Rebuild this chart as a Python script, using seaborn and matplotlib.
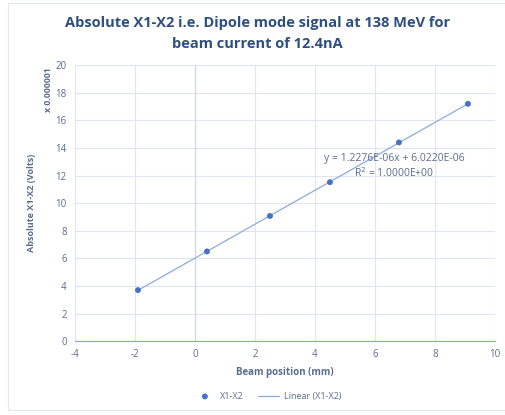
import numpy as np
import pandas as pd
import matplotlib
matplotlib.use("Agg")
import matplotlib.pyplot as plt
import seaborn as sns

# beam position (mm) vs |X1-X2| (x 1e-6 V)
beam_pos = [-1.9, 0.4, 2.5, 4.5, 6.8, 9.1]
signal = [3.70, 6.50, 9.07, 11.52, 14.40, 17.20]
x_ticks = [-4, -2, 0, 2, 4, 6, 8, 10]
y_ticks = [0, 2, 4, 6, 8, 10, 12, 14, 16, 18, 20]

df = pd.DataFrame({"pos": beam_pos, "sig": signal})

sns.set_theme(style="white")
plt.rcParams["font.family"] = ["Open Sans", "DejaVu Sans"]
plt.rcParams["axes.unicode_minus"] = False

TXT = "#5a6d8e"
TITLE = "#2f4f7f"
GRID = "#dfe6f1"

fig = plt.figure(figsize=(5.05, 4.15), dpi=100)
ax = fig.add_axes([0.1485, 0.178, 0.8315, 0.665])

# trendline (Excel style, over data range)
slope, icpt = np.polyfit(df["pos"], df["sig"], 1)
xl = np.array([df["pos"].min(), df["pos"].max()])
line, = ax.plot(xl, slope * xl + icpt, color="#8eaadb", lw=0.9, zorder=2)
sns.scatterplot(data=df, x="pos", y="sig", ax=ax, color="#4472c4", s=18,
                edgecolor="none", zorder=3, legend=False)
pts = ax.collections[-1]

ax.set_xlim(-4, 10)
ax.set_ylim(0, 20)
ax.set_xticks(x_ticks)
ax.set_yticks(y_ticks)
ax.grid(True, color=GRID, lw=0.8)
ax.axvline(0, color="#d2dae6", lw=0.9, zorder=1)
for s in ["top", "right", "left"]:
    ax.spines[s].set_visible(False)
ax.spines["bottom"].set_color("#8eaadb")
ax.spines["bottom"].set_linewidth(0.9)
ax.tick_params(axis="both", length=0, labelsize=7, colors=TXT, pad=6)

ax.set_xlabel("Beam position (mm)", fontsize=7, color=TXT, fontweight="bold", labelpad=5)
ax.set_ylabel("Absolute X1-X2 (Volts)", fontsize=6.5, color=TXT, fontweight="bold", labelpad=14)
fig.text(0.097, 0.837, "x 0.000001", rotation=90, fontsize=6.3, color=TXT,
         fontweight="bold", ha="center", va="top")

ax.text(6.63, 13.2, "y = 1.2276E-06x + 6.0220E-06", fontsize=7.5, color=TXT, ha="center", va="center")
ax.text(6.63, 12.15, "R$^2$ = 1.0000E+00", fontsize=7.5, color=TXT, ha="center", va="center")

fig.text(0.51, 0.962, "Absolute X1-X2 i.e. Dipole mode signal at 138 MeV for\nbeam current of 12.4nA",
         ha="center", va="top", multialignment="center", fontsize=10.5,
         fontweight="bold", color=TITLE, linespacing=1.65)

leg = fig.legend([pts, line], ["X1-X2", "Linear (X1-X2)"], loc="center",
                 bbox_to_anchor=(0.53, 0.045), ncol=2, frameon=False, fontsize=6.5,
                 handlelength=2.4, columnspacing=1.5, handletextpad=0.5)
for t in leg.get_texts():
    t.set_color(TXT)

fig.patches.append(plt.Rectangle((0.016, 0.012), 0.99, 0.98, transform=fig.transFigure,
                                 fill=False, edgecolor="#e3e8ef", lw=0.8))

fig.savefig("out.png", dpi=100)
